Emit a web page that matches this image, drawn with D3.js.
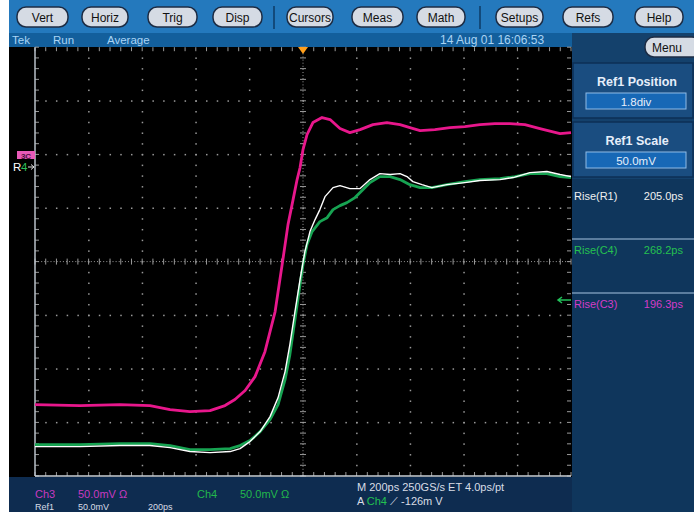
<!DOCTYPE html>
<html><head><meta charset="utf-8">
<script src="https://cdn.jsdelivr.net/npm/d3@7"></script>
<style>
html,body{margin:0;padding:0;background:#fff;}
svg{display:block;font-family:"Liberation Sans",Arial,sans-serif;}
</style></head><body>
<script>
// ---------- data ----------
const menuButtons = ["Vert","Horiz","Trig","Disp","Cursors","Meas","Math","Setups","Refs","Help"];
const menuButtonX = [17,82,148,213,287,352,417,496,563,635];
const menuButtonW = [51,46,49,49,46,51,48,47,50,48];
const statusLabels = ["Tek","Run","Average"];
const dateLabel = "14 Aug 01 16:06:53";
// time in ps, amplitude in mV (50 mV/div, 200 ps/div)
const ch3Time = [-1000,-832,-683,-571,-496,-422,-347,-291,-254,-216,-179,-142,-104,-75,-56,-37,-22,-11,0,15,37,71,101,138,175,213,261,313,362,399,437,492,548,604,660,716,772,828,884,929,959,1000];
const ch3Volt = [-133.4,-134.3,-133.4,-134.3,-138,-140,-139,-134.3,-128.7,-120.3,-107.3,-84,-46.6,1.9,34.5,57.8,76.5,87.7,104.5,118.5,129.7,134.4,132.5,124.1,120.3,123.1,127.8,129.7,127.8,125,122.2,123.1,125,125.9,127.8,128.7,128.7,127.8,124.1,121.3,119.4,120.3];
const ref1Time = [-1000,-832,-683,-571,-496,-422,-347,-272,-235,-198,-160,-123,-93,-67,-49,-30,-11,7,26,45,63,82,112,138,175,213,250,287,325,362,388,410,444,481,537,604,660,735,784,847,910,959,1000];
const ref1Volt = [-172.6,-172.6,-171.6,-171.6,-173.5,-177.2,-178.2,-177.2,-174.4,-167.9,-158.6,-144.6,-126.9,-102.6,-77.4,-46.6,-16.8,9.3,28,39.2,48.5,60.6,69,70.9,68.1,68.1,76.5,82.1,81.2,82.1,79.3,74.6,71.8,69,71.8,73.7,75.6,76.5,78.4,83,84,81.2,79.3];
const ch4Time = [-1000,-832,-683,-571,-496,-422,-347,-272,-235,-198,-160,-123,-93,-67,-49,-30,-11,0,15,34,63,90,112,138,164,194,213,250,287,325,362,399,437,481,537,604,660,735,791,847,910,959,1000];
const ch4Volt = [-170.7,-170.7,-169.8,-169.8,-171.6,-175.4,-175.4,-174.4,-171.6,-167,-158.6,-147.4,-133.4,-110.1,-86.8,-54.1,-21.5,-2.8,15.9,28,37.3,41,48.5,52.2,55,59.7,64.4,73.7,79.3,79.3,76.5,71.8,69,69,71.8,74.6,76.5,77.4,79.3,82.1,82.1,79.3,78.4];
const refPanelTitles = ["Ref1 Position","Ref1 Scale"];
const refPanelValues = ["1.8div","50.0mV"];
const measLabels = ["Rise(R1)","Rise(C4)","Rise(C3)"];
const measValues = ["205.0ps","268.2ps","196.3ps"];
const timeTicks = d3.range(-1000,1001,200);
const voltTicks = d3.range(-200,201,50);

// ---------- layout ----------
const W=694,H=512;
const svg=d3.select("body").append("svg").attr("width",W).attr("height",H);
const x=d3.scaleLinear().domain([-1000,1000]).range([35,571]);
const y=d3.scaleLinear().domain([-200,200]).range([476,47.2]);

// backgrounds
svg.append("rect").attr("x",9).attr("y",0).attr("width",W-9).attr("height",33).attr("fill","#2479bd");
svg.append("rect").attr("x",9).attr("y",33).attr("width",563).attr("height",14).attr("fill","#135f9c");
svg.append("rect").attr("x",572).attr("y",33).attr("width",122).attr("height",H-33).attr("fill","#14416c");
svg.append("rect").attr("x",9).attr("y",47).attr("width",563).attr("height",430).attr("fill","#000");
svg.append("rect").attr("x",9).attr("y",477).attr("width",563).attr("height",35).attr("fill","#0e2c50");

// menu buttons
const btn=svg.append("g");
menuButtons.forEach((b,i)=>{
  btn.append("rect").attr("x",menuButtonX[i]).attr("y",7).attr("width",menuButtonW[i]).attr("height",20)
    .attr("rx",9).attr("fill","#d5dbe4").attr("stroke","#1c2c44").attr("stroke-width",1.5);
  btn.append("text").attr("x",menuButtonX[i]+menuButtonW[i]/2).attr("y",21.5).attr("text-anchor","middle")
    .attr("font-size",12).attr("fill","#111").text(b);
});
[274,480].forEach(sx=>svg.append("line").attr("x1",sx).attr("x2",sx).attr("y1",6).attr("y2",29).attr("stroke","#0d3b66").attr("stroke-width",1.5));

// status row
const stX=[12,53,107];
statusLabels.forEach((s,i)=>svg.append("text").attr("x",stX[i]).attr("y",44).attr("font-size",11.5).attr("fill","#a9d4f5").text(s));
svg.append("text").attr("x",440).attr("y",44).attr("font-size",12).attr("fill","#a9d4f5").text(dateLabel);

// Menu button
svg.append("rect").attr("x",645).attr("y",37).attr("width",56).attr("height",20).attr("rx",9).attr("fill","#d5dbe4").attr("stroke","#1c2c44").attr("stroke-width",1.5);
svg.append("text").attr("x",667).attr("y",51.5).attr("text-anchor","middle").attr("font-size",12).attr("fill","#111").text("Menu");

// graticule
const g=svg.append("g");
const div=(x(200)-x(0)), sub=div/5;
const gridCol="#9a9a9a";
timeTicks.slice(1,-1).forEach(t=>{
  if(t===0) return;
  for(let yy=y(200)+sub; yy<y(-200)-1; yy+=sub)
    g.append("rect").attr("x",x(t)-0.5).attr("y",yy-0.5).attr("width",1.5).attr("height",1.5).attr("fill",gridCol);
});
voltTicks.slice(1,-1).forEach(v=>{
  if(v===0) return;
  for(let xx=x(-1000)+sub; xx<x(1000)-1; xx+=sub)
    g.append("rect").attr("x",xx-0.5).attr("y",y(v)-0.5).attr("width",1.5).attr("height",1.5).attr("fill",gridCol);
});
g.append("line").attr("x1",x(0)).attr("x2",x(0)).attr("y1",y(200)).attr("y2",y(-200)).attr("stroke",gridCol).attr("stroke-dasharray","1,2.1");
g.append("line").attr("x1",x(-1000)).attr("x2",x(1000)).attr("y1",y(0)).attr("y2",y(0)).attr("stroke",gridCol).attr("stroke-dasharray","1,2.1");
for(let yy=y(200); yy<=y(-200)+0.5; yy+=sub)
  g.append("line").attr("x1",x(0)-3).attr("x2",x(0)+3).attr("y1",yy).attr("y2",yy).attr("stroke",gridCol);
for(let xx=x(-1000); xx<=x(1000)+0.5; xx+=sub)
  g.append("line").attr("x1",xx).attr("x2",xx).attr("y1",y(0)-3).attr("y2",y(0)+3).attr("stroke",gridCol);
for(let xx=x(-1000); xx<=x(1000)+0.5; xx+=sub){
  g.append("line").attr("x1",xx).attr("x2",xx).attr("y1",y(200)).attr("y2",y(200)+4).attr("stroke",gridCol);
  g.append("line").attr("x1",xx).attr("x2",xx).attr("y1",y(-200)).attr("y2",y(-200)-4).attr("stroke",gridCol);
}
for(let yy=y(200); yy<=y(-200)+0.5; yy+=sub){
  g.append("line").attr("x1",x(-1000)).attr("x2",x(-1000)+4).attr("y1",yy).attr("y2",yy).attr("stroke",gridCol);
  g.append("line").attr("x1",x(1000)).attr("x2",x(1000)-4).attr("y1",yy).attr("y2",yy).attr("stroke",gridCol);
}
g.append("line").attr("x1",x(-1000)).attr("x2",x(-1000)).attr("y1",y(200)).attr("y2",y(-200)).attr("stroke","#b8c0c8").attr("stroke-width",1.5);
g.append("line").attr("x1",x(-1000)).attr("x2",x(1000)).attr("y1",y(-200)).attr("y2",y(-200)).attr("stroke","#c8d0d8").attr("stroke-width",1.5);

// traces
const line=d3.line().x(d=>x(d[0])).y(d=>y(d[1]));
const tr=svg.append("g");
tr.append("path").datum(d3.zip(ch3Time,ch3Volt)).attr("d",line).attr("fill","none").attr("stroke","#e8178c").attr("stroke-width",2.8).attr("stroke-linejoin","round");
tr.append("path").datum(d3.zip(ch4Time,ch4Volt)).attr("d",line).attr("fill","none").attr("stroke","#17a352").attr("stroke-width",2.8).attr("stroke-linejoin","round");
tr.append("path").datum(d3.zip(ref1Time,ref1Volt)).attr("d",line).attr("fill","none").attr("stroke","#ffffff").attr("stroke-width",1.4).attr("stroke-linejoin","round");

// trigger marker
svg.append("path").attr("d",`M${x(0)-5},47 L${x(0)+5},47 L${x(0)},54 Z`).attr("fill","#ff9f1c");

// left markers
svg.append("rect").attr("x",17).attr("y",151).attr("width",18).attr("height",8).attr("fill","#e85ab8");
svg.append("text").attr("x",26).attr("y",158.5).attr("text-anchor","middle").attr("font-size",8).attr("font-weight","bold").attr("fill","#4a1040").text("3C");
svg.append("text").attr("x",13).attr("y",171).attr("font-size",11.5).attr("fill","#fff").text("R");
svg.append("text").attr("x",21).attr("y",171).attr("font-size",11.5).attr("fill","#2ec05a").text("4");
svg.append("path").attr("d","M28,167 L34,167 M31,164.5 L34,167 L31,169.5").attr("stroke","#ddd").attr("fill","none");

// right green arrow
svg.append("path").attr("d","M558,300 L571,300 M562,297 L558,300 L562,303").attr("stroke","#22c05a").attr("stroke-width",1.5).attr("fill","none");

// right panel boxes
refPanelTitles.forEach((t,i)=>{
  const by=63+i*59;
  svg.append("rect").attr("x",573).attr("y",by).attr("width",120).attr("height",55).attr("fill","#1a4d80").attr("stroke","#0c2f55").attr("stroke-width",1.5);
  svg.append("text").attr("x",637).attr("y",by+23).attr("text-anchor","middle").attr("font-size",12.5).attr("font-weight","bold").attr("fill","#e6eefa").text(t);
  svg.append("rect").attr("x",586).attr("y",by+30).attr("width",100).attr("height",16).attr("fill","#1768b6").attr("stroke","#8fbbe6").attr("stroke-width",1);
  svg.append("text").attr("x",636).attr("y",by+42.5).attr("text-anchor","middle").attr("font-size",11.5).attr("fill","#e6eefa").text(refPanelValues[i]);
});
svg.append("rect").attr("x",572).attr("y",179).attr("width",122).attr("height",333).attr("fill","#0f365c");
const measCol=["#f0f0f0","#25c050","#d43cc8"];
const measY=[200,254,308];
measLabels.forEach((m,i)=>{
  svg.append("text").attr("x",574).attr("y",measY[i]).attr("font-size",11).attr("fill",measCol[i]).text(m);
  svg.append("text").attr("x",683).attr("y",measY[i]).attr("text-anchor","end").attr("font-size",11).attr("fill",measCol[i]).text(measValues[i]);
});
[239,293].forEach(ly=>svg.append("line").attr("x1",572).attr("x2",694).attr("y1",ly).attr("y2",ly).attr("stroke","#a8c4e0").attr("stroke-width",1.2));

// bottom info
const bt=svg.append("g").attr("font-size",11);
bt.append("text").attr("x",35).attr("y",498).attr("fill","#c83ac0").text("Ch3");
bt.append("text").attr("x",78).attr("y",498).attr("fill","#c83ac0").text("50.0mV  Ω");
bt.append("text").attr("x",197).attr("y",498).attr("fill","#22b84c").text("Ch4");
bt.append("text").attr("x",240).attr("y",498).attr("fill","#22b84c").text("50.0mV  Ω");
const rb=svg.append("g").attr("font-size",9);
rb.append("text").attr("x",35).attr("y",509.5).attr("fill","#d8dde6").text("Ref1");
rb.append("text").attr("x",78).attr("y",509.5).attr("fill","#d8dde6").text("50.0mV");
rb.append("text").attr("x",148).attr("y",509.5).attr("fill","#d8dde6").text("200ps");
bt.append("text").attr("x",357).attr("y",491).attr("fill","#d8dde6").text("M 200ps 250GS/s ET 4.0ps/pt");
const a=bt.append("text").attr("x",357).attr("y",505).attr("fill","#d8dde6");
a.append("tspan").text("A ");
a.append("tspan").attr("fill","#22c050").text("Ch4");
a.append("tspan").text("  ⟋  -126m  V");
</script>
</body></html>
